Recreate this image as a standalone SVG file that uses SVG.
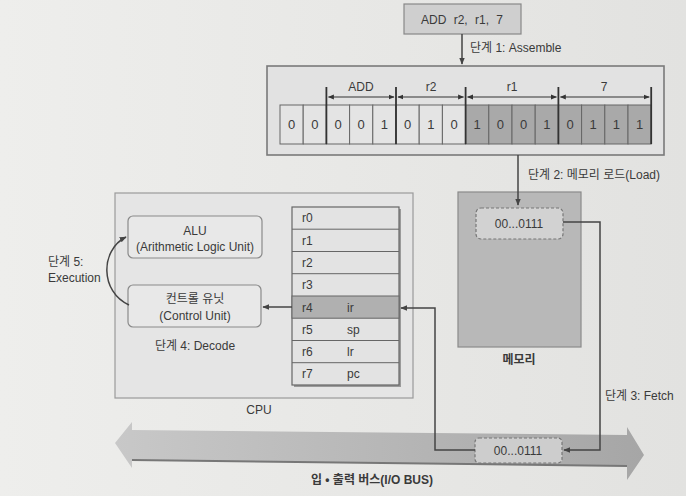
<svg xmlns="http://www.w3.org/2000/svg" width="686" height="496" viewBox="0 0 686 496">
<defs>
<linearGradient id="bg" x1="0" y1="0" x2="1" y2="0">
<stop offset="0" stop-color="#eeeeec"/><stop offset="1" stop-color="#e2e2e0"/>
</linearGradient>
<linearGradient id="bus" x1="0" y1="0" x2="1" y2="0">
<stop offset="0" stop-color="#c8c8c8"/><stop offset="1" stop-color="#a6a6a6"/>
</linearGradient>
<marker id="ah" viewBox="0 0 10 10" refX="9" refY="5" markerWidth="7" markerHeight="7" orient="auto-start-reverse" markerUnits="userSpaceOnUse">
<path d="M0,1 L10,5 L0,9 Z" fill="#444"/>
</marker>
<marker id="sh" viewBox="0 0 10 10" refX="9" refY="5" markerWidth="6" markerHeight="6" orient="auto-start-reverse" markerUnits="userSpaceOnUse">
<path d="M0,1 L10,5 L0,9 Z" fill="#333"/>
</marker>
</defs>
<style>
text{font-family:"Liberation Sans","Noto Sans CJK KR",sans-serif;font-size:12px;fill:#3a3a3a}
.c{text-anchor:middle}
.cell{stroke:#666;stroke-width:1}
.lt{fill:#e4e4e4}
.dk{fill:#a9a9a9}
.bit{font-size:13px;text-anchor:middle}
.conn{fill:none;stroke:#444;stroke-width:1.5}
.div{stroke:#333;stroke-width:1.8}
.dash{stroke:#777;stroke-width:1.2;stroke-dasharray:3,2}
</style>
<rect width="686" height="496" fill="url(#bg)"/>

<g id="instruction">
<rect x="404" y="4" width="117" height="30" fill="#cfcfcf" stroke="#888" stroke-width="1.2"/>
<text class="c" x="462" y="24" font-size="13" word-spacing="4">ADD r2, r1, 7</text>
</g>

<g id="machine-code">
<rect x="267" y="66" width="397" height="89" fill="#e2e2e2" stroke="#7a7a7a" stroke-width="1.6"/>
<g>
<rect class="cell lt" x="280" y="105" width="23.2" height="39"/>
<rect class="cell lt" x="303.2" y="105" width="23.2" height="39"/>
<rect class="cell lt" x="326.4" y="105" width="23.2" height="39"/>
<rect class="cell lt" x="349.6" y="105" width="23.2" height="39"/>
<rect class="cell lt" x="372.8" y="105" width="23.2" height="39"/>
<rect class="cell lt" x="396" y="105" width="23.2" height="39"/>
<rect class="cell lt" x="419.2" y="105" width="23.2" height="39"/>
<rect class="cell lt" x="442.4" y="105" width="23.2" height="39"/>
<rect class="cell dk" x="465.6" y="105" width="23.2" height="39"/>
<rect class="cell dk" x="488.8" y="105" width="23.2" height="39"/>
<rect class="cell dk" x="512" y="105" width="23.2" height="39"/>
<rect class="cell dk" x="535.2" y="105" width="23.2" height="39"/>
<rect class="cell dk" x="558.4" y="105" width="23.2" height="39"/>
<rect class="cell dk" x="581.6" y="105" width="23.2" height="39"/>
<rect class="cell dk" x="604.8" y="105" width="23.2" height="39"/>
<rect class="cell dk" x="628" y="105" width="23.2" height="39"/>
</g>
<g>
<text class="bit" x="291.6" y="129">0</text>
<text class="bit" x="314.8" y="129">0</text>
<text class="bit" x="338" y="129">0</text>
<text class="bit" x="361.2" y="129">0</text>
<text class="bit" x="384.4" y="129">1</text>
<text class="bit" x="407.6" y="129">0</text>
<text class="bit" x="430.8" y="129">1</text>
<text class="bit" x="454" y="129">0</text>
<text class="bit" x="477.2" y="129">1</text>
<text class="bit" x="500.4" y="129">0</text>
<text class="bit" x="523.6" y="129">0</text>
<text class="bit" x="546.8" y="129">1</text>
<text class="bit" x="570" y="129">0</text>
<text class="bit" x="593.2" y="129">1</text>
<text class="bit" x="616.4" y="129">1</text>
<text class="bit" x="639.6" y="129">1</text>
</g>
<line class="div" x1="326.4" y1="87" x2="326.4" y2="144"/>
<line class="div" x1="396" y1="87" x2="396" y2="144"/>
<line class="div" x1="465.6" y1="87" x2="465.6" y2="144"/>
<line class="div" x1="558.4" y1="87" x2="558.4" y2="144"/>
<line class="div" x1="651.2" y1="87" x2="651.2" y2="144"/>
<line x1="328.5" y1="97" x2="394" y2="97" stroke="#333" stroke-width="1" marker-start="url(#sh)" marker-end="url(#sh)"/>
<line x1="398" y1="97" x2="463.5" y2="97" stroke="#333" stroke-width="1" marker-start="url(#sh)" marker-end="url(#sh)"/>
<line x1="467.6" y1="97" x2="556.4" y2="97" stroke="#333" stroke-width="1" marker-start="url(#sh)" marker-end="url(#sh)"/>
<line x1="560.4" y1="97" x2="649.2" y2="97" stroke="#333" stroke-width="1" marker-start="url(#sh)" marker-end="url(#sh)"/>
<text class="c" x="361" y="91" font-size="13">ADD</text>
<text class="c" x="431" y="91" font-size="13">r2</text>
<text class="c" x="512" y="91" font-size="13">r1</text>
<text class="c" x="604" y="91" font-size="13">7</text>
</g>

<g id="cpu">
<rect x="115" y="193" width="298" height="205" fill="#e5e5e5" stroke="#9a9a9a" stroke-width="1.2"/>
<text class="c" x="259" y="414">CPU</text>
</g>

<g id="alu">
<rect x="128" y="216" width="134" height="42" rx="5" fill="#e8e8e8" stroke="#8a8a8a" stroke-width="1.2"/>
<text class="c" x="195" y="235">ALU</text>
<text class="c" x="195" y="251">(Arithmetic Logic Unit)</text>
</g>

<g id="control-unit">
<rect x="128" y="285" width="133" height="42" rx="5" fill="#e8e8e8" stroke="#8a8a8a" stroke-width="1.2"/>
<text class="c" x="195" y="303">컨트롤 유닛</text>
<text class="c" x="195" y="320">(Control Unit)</text>
<text class="c" x="195" y="350">단계 4: Decode</text>
</g>

<g id="registers">
<rect x="294" y="209" width="107" height="178" fill="#9a9a9a"/>
<rect x="292" y="207" width="107" height="178" fill="#e3e3e3" stroke="#666" stroke-width="1.2"/>
<rect x="292" y="296" width="107" height="22.2" fill="#b0b0b0" stroke="#666" stroke-width="1"/>
<g stroke="#666" stroke-width="1">
<line x1="292" y1="229.2" x2="399" y2="229.2"/>
<line x1="292" y1="251.5" x2="399" y2="251.5"/>
<line x1="292" y1="273.7" x2="399" y2="273.7"/>
<line x1="292" y1="340.5" x2="399" y2="340.5"/>
<line x1="292" y1="362.7" x2="399" y2="362.7"/>
</g>
<text x="302" y="222">r0</text>
<text x="302" y="245">r1</text>
<text x="302" y="267">r2</text>
<text x="302" y="289">r3</text>
<text x="302" y="312">r4</text>
<text x="347" y="312">ir</text>
<text x="302" y="334">r5</text>
<text x="347" y="334">sp</text>
<text x="302" y="356">r6</text>
<text x="347" y="356">lr</text>
<text x="302" y="378">r7</text>
<text x="347" y="378">pc</text>
</g>

<g id="memory">
<rect x="458" y="192" width="123" height="155" fill="#b8b8b8" stroke="#8a8a8a" stroke-width="1.2"/>
<text class="c" x="519" y="364" font-weight="bold" font-size="13">메모리</text>
</g>

<g id="memory-cell">
<rect class="dash" x="476" y="208" width="87" height="31" rx="5" fill="#d2d2d2"/>
<text class="c" x="519" y="228">00...0111</text>
</g>

<g id="bus">
<path d="M115,443 L132,422 L132,430 L627,435 L627,427 L644,455 L627,480 L627,466 L132,460 L132,468 Z" fill="url(#bus)"/>
<line x1="132" y1="460" x2="627" y2="466" stroke="#777" stroke-width="2"/>
<text class="c" x="372" y="484" font-weight="bold">입 • 출력 버스(I/O BUS)</text>
</g>

<g id="bus-cell">
<rect class="dash" x="475" y="438" width="87" height="25" rx="4" fill="#cdcdcd"/>
<text class="c" x="518" y="455">00...0111</text>
</g>

<g id="connectors">
<line class="conn" x1="462" y1="34" x2="462" y2="64" marker-end="url(#ah)"/>
<line class="conn" x1="518" y1="155" x2="518" y2="205" marker-end="url(#ah)"/>
<polyline class="conn" points="563,222 600,222 600,450 564,450" marker-end="url(#ah)"/>
<polyline class="conn" points="475,450 435,450 435,308 401,308" marker-end="url(#ah)"/>
<line class="conn" x1="292" y1="307" x2="263" y2="307" marker-end="url(#ah)"/>
<path class="conn" d="M129,305 C100,292 100,250 126,237" stroke="#666" marker-end="url(#ah)"/>
</g>

<g id="labels">
<text x="470" y="52">단계 1: Assemble</text>
<text x="528" y="179">단계 2: 메모리 로드(Load)</text>
<text x="605" y="400">단계 3: Fetch</text>
<text x="48" y="266">단계 5:</text>
<text x="48" y="282">Execution</text>
</g>
</svg>
